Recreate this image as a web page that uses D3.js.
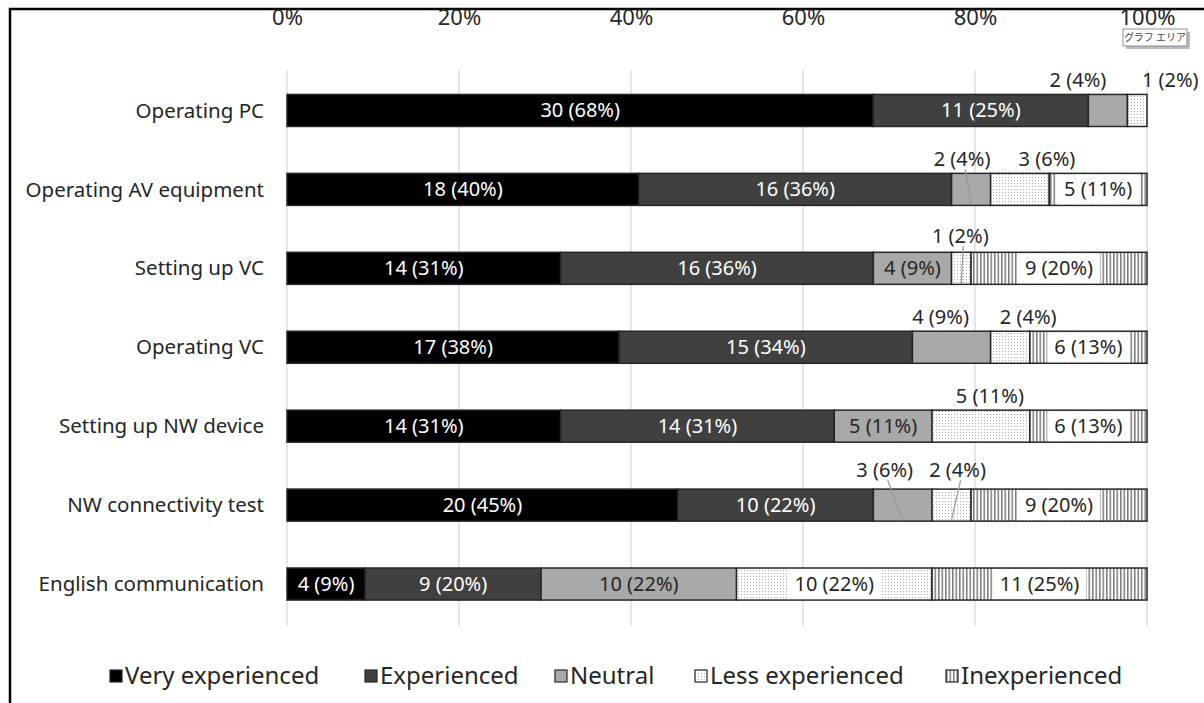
<!DOCTYPE html>
<html>
<head>
<meta charset="utf-8">
<script src="https://cdn.jsdelivr.net/npm/d3@7"></script>
<style>
  body { margin: 0; background: #fff; }
  text { font-family: "Noto Sans", sans-serif; }
</style>
</head>
<body>
<svg id="chart" width="1204" height="703"></svg>
<script>
// Data (counts out of 44 respondents)
const categories = ["Operating PC", "Operating AV equipment", "Setting up VC", "Operating VC",
  "Setting up NW device", "NW connectivity test", "English communication"]
const seriesNames = ["Very experienced", "Experienced", "Neutral", "Less experienced", "Inexperienced"]
const veryExperienced = [30, 18, 14, 17, 14, 20, 4]
const experienced = [11, 16, 16, 15, 14, 10, 9]
const neutral = [2, 2, 4, 4, 5, 3, 10]
const lessExperienced = [1, 3, 1, 2, 5, 2, 10]
const inexperienced = [0, 5, 9, 6, 6, 9, 11]
// percent labels as printed on the chart
const pctVery = [68, 40, 31, 38, 31, 45, 9]
const pctExp = [25, 36, 36, 34, 31, 22, 20]
const pctNeutral = [4, 4, 9, 9, 11, 6, 22]
const pctLess = [2, 6, 2, 4, 11, 4, 22]
const pctInexp = [0, 11, 20, 13, 13, 20, 25]
const tickValues = [0, 0.2, 0.4, 0.6, 0.8, 1]
const tickLabels = ["0%", "20%", "40%", "60%", "80%", "100%"]

// Labels that Excel put above the bar (manual placement)
const outsideLabels = [
  { row: 0, series: 2, dx: -30, dy: 0, leader: false },
  { row: 0, series: 3, dx: 33, dy: 0, leader: false },
  { row: 1, series: 2, dx: -9, dy: 0, leader: true },
  { row: 1, series: 3, dx: 27, dy: 0, leader: false },
  { row: 2, series: 3, dx: -1, dy: -2, leader: true },
  { row: 3, series: 2, dx: -11, dy: 0, leader: false },
  { row: 3, series: 3, dx: 18, dy: 0, leader: false },
  { row: 4, series: 3, dx: 9, dy: 0, leader: false },
  { row: 5, series: 2, dx: -18, dy: -5, leader: true },
  { row: 5, series: 3, dx: 6, dy: -5, leader: true }
]

const counts = [veryExperienced, experienced, neutral, lessExperienced, inexperienced]
const pcts = [pctVery, pctExp, pctNeutral, pctLess, pctInexp]

const rows = categories.map((c, i) => {
  const r = { category: c }
  const total = d3.sum(counts, s => s[i])
  seriesNames.forEach((k, j) => { r[k] = counts[j][i] / total })
  return r
})

const svg = d3.select("#chart")

// Patterns
const defs = svg.append("defs")
const dots = defs.append("pattern").attr("id", "dots")
  .attr("patternUnits", "userSpaceOnUse").attr("width", 3).attr("height", 3)
dots.append("rect").attr("width", 3).attr("height", 3).attr("fill", "#fff")
dots.append("rect").attr("width", 1).attr("height", 1).attr("fill", "#a8a8a8")
const stripes = defs.append("pattern").attr("id", "stripes")
  .attr("patternUnits", "userSpaceOnUse").attr("width", 3.5).attr("height", 4)
stripes.append("rect").attr("width", 3.5).attr("height", 4).attr("fill", "#fff")
stripes.append("rect").attr("width", 1.5).attr("height", 4).attr("fill", "#7a7a7a")

const fills = ["#000000", "#404040", "#a9a9a9", "url(#dots)", "url(#stripes)"]
const labelColors = ["#fff", "#fff", "#262626", "#262626", "#262626"]

// Frame
svg.append("path")
  .attr("d", "M1204,9 L10,9 L10,703")
  .attr("fill", "none").attr("stroke", "#000").attr("stroke-width", 2.5)

const x = d3.scaleLinear().domain([0, 1]).range([287, 1147])
const y = d3.scaleBand().domain(categories).range([71, 623.5])
  .paddingInner(0.594).paddingOuter(0.297)

// Grid lines
svg.append("g").selectAll("line").data(tickValues).enter().append("line")
  .attr("x1", d => x(d)).attr("x2", d => x(d))
  .attr("y1", 70).attr("y2", 626)
  .attr("stroke", "#d9d9d9").attr("stroke-width", 1.3)

// Top axis
const axis = svg.append("g").attr("transform", "translate(0,20)")
  .call(d3.axisTop(x).tickValues(tickValues).tickFormat((d, i) => tickLabels[i]).tickSize(0))
axis.select(".domain").remove()
axis.selectAll("text").attr("dy", "0.35em")
  .style("font-family", "'Noto Sans', sans-serif").style("font-size", "22px").attr("fill", "#262626")

// Category labels
svg.append("g").selectAll("text").data(categories).enter().append("text")
  .attr("x", 264).attr("y", d => y(d) + y.bandwidth() / 2).attr("dy", "0.35em")
  .attr("text-anchor", "end").style("font-size", "20.5px").attr("fill", "#262626")
  .text(d => d)

// Bars
const stack = d3.stack().keys(seriesNames)(rows)
const layers = svg.append("g").selectAll("g.layer").data(stack).enter().append("g")
  .attr("class", "layer")
  .attr("fill", (d, i) => fills[i])
layers.selectAll("rect").data(d => d).enter().append("rect")
  .attr("x", d => x(d[0])).attr("width", d => x(d[1]) - x(d[0]))
  .attr("y", d => y(d.data.category)).attr("height", y.bandwidth())
  .attr("stroke", "#262626").attr("stroke-width", 1.5)
  .style("display", d => d[1] - d[0] > 0 ? null : "none")

// Data labels
const labels = svg.append("g")
stack.forEach((layer, j) => {
  layer.forEach((seg, i) => {
    const n = counts[j][i]
    if (!n) return
    const txt = `${n} (${pcts[j][i]}%)`
    const cx = (x(seg[0]) + x(seg[1])) / 2
    const top = y(categories[i])
    const bottom = top + y.bandwidth()
    const out = outsideLabels.find(o => o.row === i && o.series === j)
    if (out) {
      const lx = cx + out.dx
      const ly = top - 14 + out.dy
      if (out.leader) {
        labels.append("line")
          .attr("x1", lx + 3).attr("y1", ly + 10)
          .attr("x2", cx).attr("y2", bottom - 1)
          .attr("stroke", "#9a9a9a").attr("stroke-width", 1.3)
      }
      labels.append("text").attr("x", lx).attr("y", ly).attr("dy", "0.35em")
        .attr("text-anchor", "middle").style("font-size", "20px").attr("fill", "#262626")
        .text(txt)
    } else {
      const t = labels.append("text").attr("x", cx).attr("y", (top + bottom) / 2).attr("dy", "0.35em")
        .attr("text-anchor", "middle").style("font-size", "20px").attr("fill", labelColors[j])
        .text(txt)
      if (j >= 3) {
        const w = t.node().getComputedTextLength() + 14
        labels.insert("rect", function () { return t.node() })
          .attr("x", cx - w / 2).attr("y", top + 1).attr("width", w).attr("height", y.bandwidth() - 2)
          .attr("fill", "#fff")
      }
    }
  })
})

// Legend
const legendX = [110, 365, 555, 695, 946]
const legend = svg.append("g").attr("transform", "translate(0,676)")
seriesNames.forEach((name, j) => {
  const g = legend.append("g").attr("transform", `translate(${legendX[j]},0)`)
  g.append("rect").attr("x", 0).attr("y", -6).attr("width", 12).attr("height", 12)
    .attr("fill", fills[j]).attr("stroke", "#262626").attr("stroke-width", 1.2)
  g.append("text").attr("x", 15).attr("y", 0).attr("dy", "0.35em")
    .style("font-size", "24px").attr("fill", "#262626").text(name)
})

// Excel "chart area" tooltip captured in the screenshot
const tip = svg.append("g").attr("transform", "translate(1123,29)")
tip.append("rect").attr("x", 3).attr("y", 3).attr("width", 64).attr("height", 17).attr("fill", "#bdbdbd")
tip.append("rect").attr("width", 64).attr("height", 17).attr("fill", "#fff")
  .attr("stroke", "#777").attr("stroke-width", 0.8)
tip.append("text").attr("x", 32).attr("y", 8.5).attr("dy", "0.35em").attr("text-anchor", "middle")
  .style("font-family", "'Noto Sans CJK JP', sans-serif").style("font-size", "10px").attr("fill", "#444")
  .text("グラフ エリア")
</script>
</body>
</html>
